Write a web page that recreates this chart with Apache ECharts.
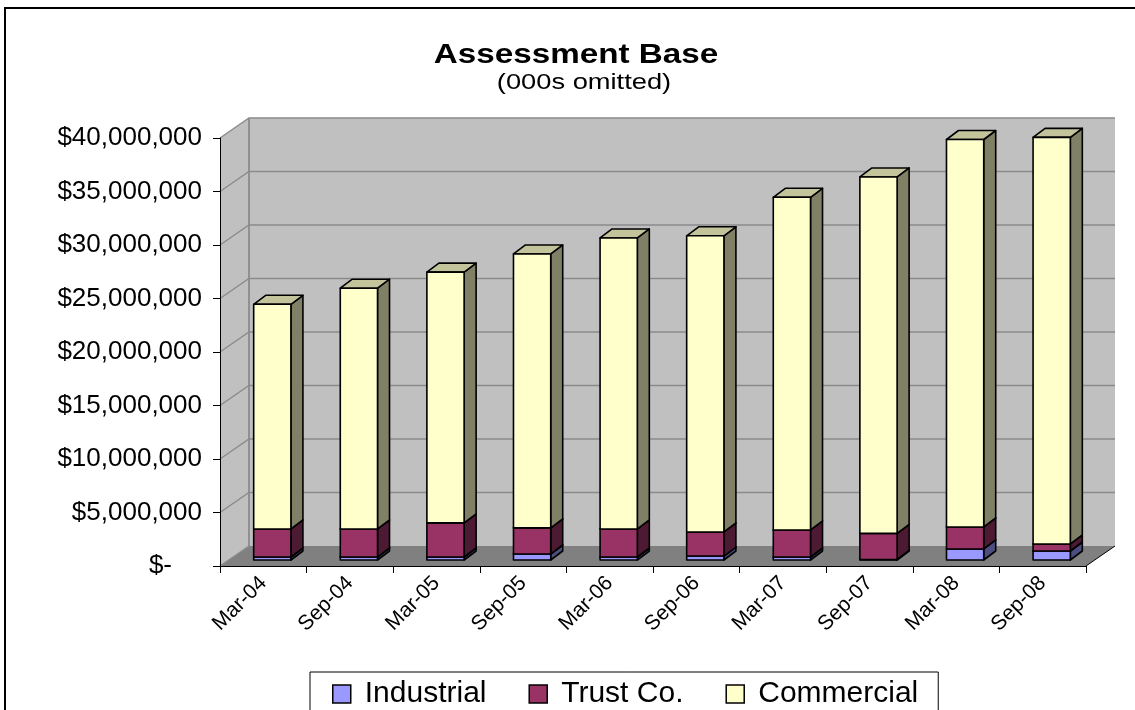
<!DOCTYPE html>
<html><head><meta charset="utf-8">
<script src="https://cdn.jsdelivr.net/npm/echarts@6/dist/echarts.min.js"></script>
<style>html,body{margin:0;padding:0;background:#fff}#c{width:1135px;height:710px}</style>
</head><body><div id="c"></div>
<script>
// ---- data (values in $, 000s omitted) ----
const categories = ['Mar-04','Sep-04','Mar-05','Sep-05','Mar-06','Sep-06','Mar-07','Sep-07','Mar-08','Sep-08'];
const industrial = [280000, 280000, 280000, 560000, 280000, 370000, 280000, 50000, 1030000, 840000];
const trustCo    = [2620000, 2620000, 3190000, 2440000, 2620000, 2250000, 2530000, 2440000, 2060000, 660000];
const commercial = [21000000, 22500000, 23430000, 25600000, 27200000, 27680000, 31090000, 33310000, 36210000, 38000000];
const seriesNames = ['Industrial', 'Trust Co.', 'Commercial'];
const yMin = 0, yMax = 40000000, yStep = 5000000;

// ---- styling ----
const stacks = [industrial, trustCo, commercial];
const faceColors = [
  {front:'#9999FF', side:'#4D4D80', top:'#7373BF'},
  {front:'#993366', side:'#4D1A33', top:'#73264D'},
  {front:'#FFFFCC', side:'#808066', top:'#C4C49C'}
];
const DX = 29, DY = -20;          // wall depth
const BX = 9, BY = -6;            // bar plane offset
const SDX = 12, SDY = -9;         // bar depth
const BAR_RATIO = 0.43;

function wallRender(params, api) {
  const cs = params.coordSys;
  const x0 = cs.x, x1 = cs.x + cs.width;
  const yb = api.coord([0, yMin])[1], yt = api.coord([0, yMax])[1];
  const children = [
    {type:'polygon', shape:{points:[[x0,yt],[x0+DX,yt+DY],[x0+DX,yb+DY],[x0,yb]]}, style:{fill:'#C0C0C0'}},
    {type:'rect', shape:{x:x0+DX, y:yt+DY, width:x1-x0, height:yb-yt}, style:{fill:'#C0C0C0'}},
    {type:'polygon', shape:{points:[[x0,yb],[x1,yb],[x1+DX,yb+DY],[x0+DX,yb+DY]]}, style:{fill:'#808080'}},
    {type:'line', shape:{x1:x0+DX, y1:yt+DY, x2:x0+DX, y2:yb+DY}, style:{stroke:'#808080', lineWidth:1.5}},
    {type:'line', shape:{x1:x1, y1:yb, x2:x1+DX, y2:yb+DY}, style:{stroke:'#000', lineWidth:1}}
  ];
  for (let v = yMin; v <= yMax; v += yStep) {
    const y = api.coord([0, v])[1];
    const pts = v === yMin ? [[x0,y],[x0+DX,y+DY]] : [[x0,y],[x0+DX,y+DY],[x1+DX,y+DY]];
    children.push({type:'polyline', shape:{points:pts}, style:{stroke:'#8A8A8A', lineWidth:1.3, fill:null}});
  }
  return {type:'group', children};
}

function barRender(si) {
  return function(params, api) {
    const i = api.value(0);
    let lo = 0;
    for (let k = 0; k < si; k++) lo += stacks[k][i];
    const hi = lo + stacks[si][i];
    const a = api.coord([i, lo]), b = api.coord([i, hi]);
    const bw = api.size([1, 0])[0] * BAR_RATIO;
    const xl = a[0] + BX - bw/2, xr = a[0] + BX + bw/2;
    const yb = a[1] + BY, yt = b[1] + BY;
    const c = faceColors[si];
    const st = {stroke:'#000', lineWidth:1.6, lineJoin:'round'};
    return {type:'group', children:[
      {type:'polygon', shape:{points:[[xr,yt],[xr+SDX,yt+SDY],[xr+SDX,yb+SDY],[xr,yb]]}, style:Object.assign({fill:c.side}, st)},
      {type:'polygon', shape:{points:[[xl,yt],[xl+SDX,yt+SDY],[xr+SDX,yt+SDY],[xr,yt]]}, style:Object.assign({fill:c.top}, st)},
      {type:'rect', shape:{x:xl, y:yt, width:bw, height:yb-yt}, style:Object.assign({fill:c.front}, st)}
    ]};
  };
}

const chart = echarts.init(document.getElementById('c'), null, {renderer:'canvas'});
const FONT = '"Liberation Sans", Arial, sans-serif';

const series = [{
  type:'custom', name:'walls', z:-1, silent:true, clip:false,
  data:[[0, 0]], renderItem: wallRender
}];
stacks.forEach((arr, si) => {
  series.push({
    type:'custom', name: seriesNames[si], z: 2 + si, clip:false,
    itemStyle:{color: faceColors[si].front, borderColor:'#000', borderWidth:1.5},
    data: arr.map((v, i) => [i, v]),
    renderItem: barRender(si)
  });
});

chart.setOption({
  animation:false,
  backgroundColor:'#fff',
  grid:{left:220, right:49, top:138, bottom:144, containLabel:false},
  xAxis:{
    type:'category', data:categories, boundaryGap:true,
    axisLine:{show:true, lineStyle:{color:'#000', width:1}},
    axisTick:{show:true, length:7, lineStyle:{color:'#000'}},
    axisLabel:{rotate:45, fontSize:21, fontFamily:FONT, color:'#000', margin:14, interval:0},
    splitLine:{show:false}
  },
  yAxis:{
    type:'value', min:yMin, max:yMax, interval:yStep,
    axisLine:{show:true, lineStyle:{color:'#000', width:1}},
    axisTick:{show:true, length:7, lineStyle:{color:'#000'}},
    splitLine:{show:false},
    axisLabel:{
      fontSize:26, fontFamily:FONT, color:'#000', margin:18,
      formatter: v => v === 0 ? '{z|$-}' : '$' + v.toLocaleString('en-US'),
      rich:{z:{fontSize:26, fontFamily:FONT, color:'#000', padding:[0,30,0,0]}}
    }
  },
  legend:{
    data: seriesNames.map((n, si) => ({name:n, icon:'rect', itemStyle:{color:faceColors[si].front, borderColor:'#000', borderWidth:1.5}})),
    left:310, top:672, orient:'horizontal',
    itemWidth:18, itemHeight:18, itemGap:42,
    borderColor:'#000', borderWidth:1, padding:[7, 20, 30, 22],
    textStyle:{fontSize:30, fontFamily:FONT, color:'#000', padding:[0,0,0,9]}
  },
  graphic:[
    {type:'rect', z:100, silent:true, shape:{x:5, y:8, width:1300, height:900}, style:{fill:null, stroke:'#000', lineWidth:2}},
    {type:'text', x:576, y:56, scaleX:1.23, silent:true,
      style:{text:'Assessment Base', font:'bold 27px ' + FONT, fill:'#000', textAlign:'center', textVerticalAlign:'middle'}},
    {type:'text', x:584, y:83, scaleX:1.24, silent:true,
      style:{text:'(000s omitted)', font:'22px ' + FONT, fill:'#000', textAlign:'center', textVerticalAlign:'middle'}}
  ],
  series
});
</script>
</body></html>
